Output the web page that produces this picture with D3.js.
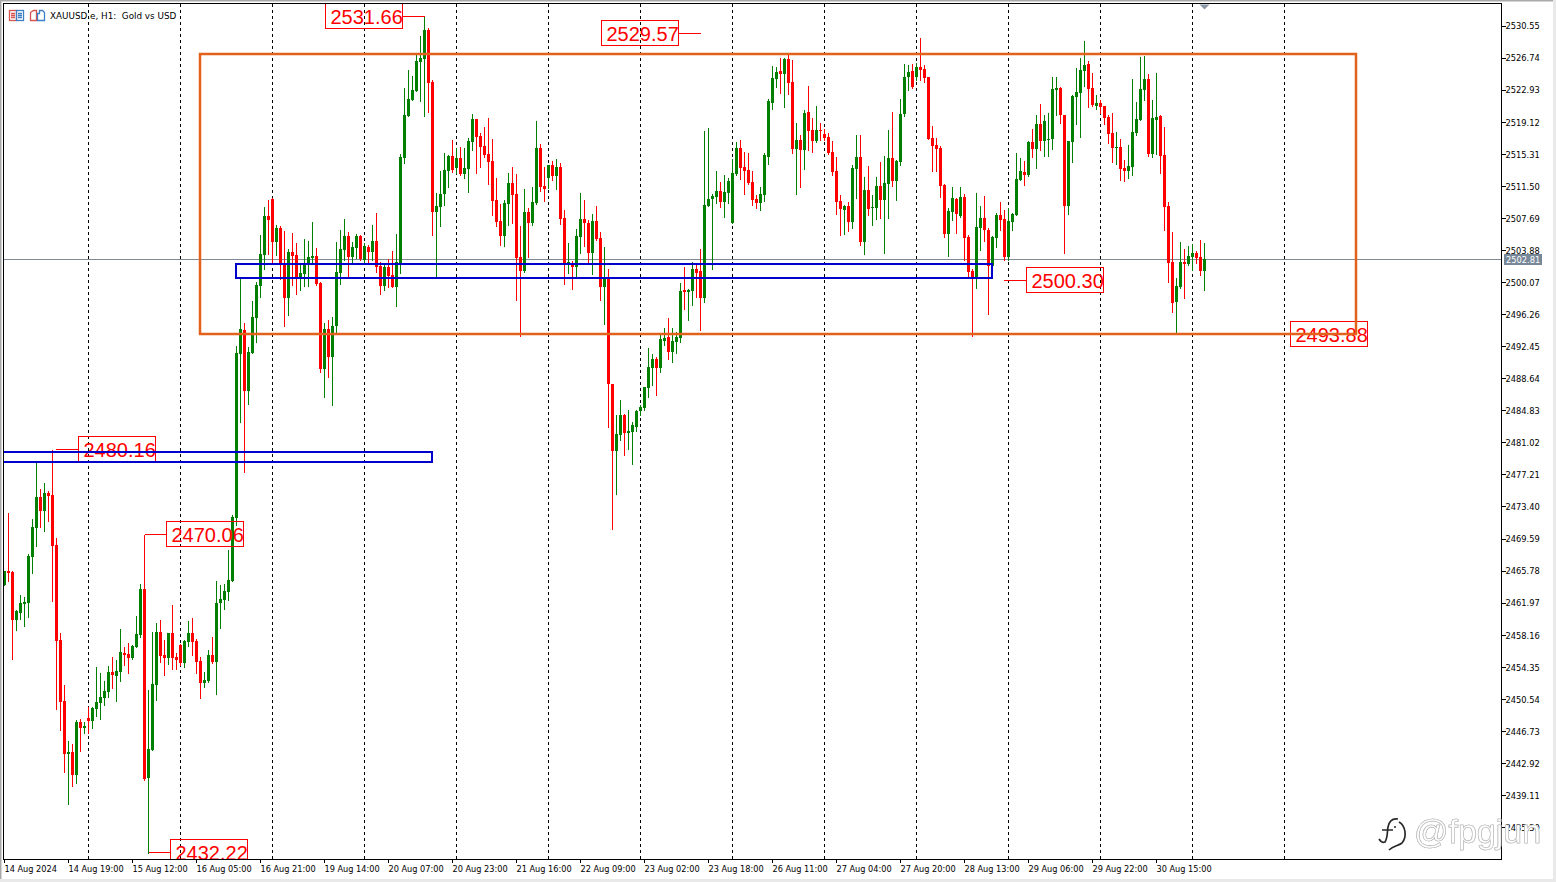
<!DOCTYPE html>
<html><head><meta charset="utf-8">
<script src="https://cdn.jsdelivr.net/npm/d3@7"></script>
<style>html,body{margin:0;padding:0;background:#fff;overflow:hidden}svg{display:block}</style>
</head><body><div id="c"></div>
<script>
const opens=[
2464.07,2465.69,2465.61,2459.91,2460.74,2461.85,2461.97,2467.39,2470.88,2474.52,
2472.86,2475.00,2474.76,2468.82,2457.53,2450.29,2444.03,2444.23,2441.49,2447.79,
2447.12,2448.27,2447.91,2449.33,2450.05,2450.64,2451.35,2453.73,2453.26,2453.73,
2455.99,2455.87,2455.39,2456.70,2458.13,2463.59,2441.14,2444.46,2452.19,2458.48,
2455.75,2455.39,2458.36,2455.51,2456.94,2454.80,2457.29,2458.36,2457.41,2455.04,
2452.42,2452.66,2455.75,2454.92,2461.93,2462.28,2463.23,2464.54,2472.02,2491.51,
2494.37,2487.16,2491.63,2495.83,2499.60,2503.28,2507.91,2509.93,2504.82,2506.49,
2502.09,2498.17,2503.63,2503.28,2500.66,2501.02,2502.21,2502.92,2503.16,2499.95,
2489.73,2494.45,2491.16,2494.84,2501.14,2503.87,2505.54,2503.04,2504.11,2505.54,
2502.68,2504.23,2503.63,2504.94,2501.97,2499.60,2501.85,2500.90,2499.48,2502.21,
2514.80,2519.80,2521.70,2522.77,2526.21,2526.57,2530.02,2523.84,2508.39,2508.98,
2510.53,2513.26,2515.04,2513.62,2514.80,2512.90,2513.50,2516.71,2519.44,2517.42,
2516.23,2515.28,2514.45,2509.82,2507.32,2505.54,2509.34,2511.84,2510.53,2503.04,
2501.38,2508.39,2507.08,2509.46,2516.00,2511.48,2512.43,2513.98,2512.67,2513.74,
2507.68,2502.29,2502.33,2501.86,2505.42,2507.56,2507.08,2503.52,2507.32,2505.30,
2499.48,2500.55,2487.95,2479.99,2481.89,2484.27,2482.13,2482.25,2482.84,2484.74,
2485.10,2487.48,2489.85,2490.92,2489.85,2493.06,2493.54,2491.75,2492.94,2493.42,
2499.12,2498.88,2499.00,2501.62,2501.38,2498.17,2509.10,2509.94,2510.17,2510.88,
2509.57,2510.64,2507.08,2512.90,2515.99,2513.73,2513.37,2511.95,2509.93,2509.45,
2510.40,2514.92,2521.34,2524.19,2525.14,2524.78,2526.56,2523.83,2515.87,2516.94,
2515.75,2520.27,2518.13,2516.82,2518.13,2517.65,2517.30,2515.51,2513.26,2509.69,
2508.62,2509.10,2507.19,2513.49,2514.92,2504.82,2511.00,2508.86,2508.86,2511.47,
2509.81,2511.71,2514.80,2512.07,2514.32,2520.03,2524.42,2525.14,2524.42,2525.61,
2525.38,2524.42,2517.18,2516.34,2515.99,2511.59,2505.77,2508.38,2509.93,2507.91,
2510.17,2505.41,2501.37,2500.50,2506.48,2507.67,2506.24,2501.97,2505.29,2508.03,
2507.55,2503.04,2507.19,2508.03,2512.19,2513.14,2512.78,2516.70,2515.87,2518.84,
2516.82,2517.06,2517.06,2522.88,2523.12,2519.91,2509.10,2516.70,2522.05,2522.52,
2525.14,2525.97,2523.12,2520.98,2521.34,2520.98,2519.67,2517.77,2515.99,2516.11,
2513.61,2513.26,2513.73,2517.77,2519.32,2522.88,2524.19,2515.27,2519.32,2519.79,
2515.16,2509.10,2502.44,2497.69,2499.47,2502.44,2502.20,2503.04,2503.51,2503.04,
2501.37];
const highs=[
2465.77,2472.58,2465.69,2461.10,2462.88,2462.68,2467.75,2471.87,2478.64,2475.43,
2476.14,2475.23,2480.16,2469.61,2458.32,2452.15,2445.53,2445.14,2448.03,2448.19,
2447.79,2449.61,2449.61,2454.28,2453.65,2452.66,2454.44,2455.47,2455.16,2458.84,
2456.66,2457.22,2456.94,2460.38,2464.18,2470.06,2451.59,2458.52,2459.59,2459.91,
2457.53,2458.40,2461.69,2455.95,2457.06,2457.53,2459.79,2460.11,2457.61,2455.55,
2453.77,2456.34,2457.85,2464.58,2464.07,2464.18,2468.22,2472.38,2492.46,2500.51,
2495.24,2492.39,2497.81,2500.07,2505.66,2508.98,2509.81,2510.05,2506.84,2506.72,
2506.13,2503.99,2505.85,2504.70,2502.29,2505.18,2504.94,2507.20,2504.11,2500.07,
2495.16,2495.56,2495.87,2504.82,2506.25,2507.56,2505.97,2504.86,2505.77,2505.65,
2504.66,2504.47,2506.84,2508.27,2502.45,2502.29,2502.80,2503.75,2505.77,2515.28,
2523.12,2525.26,2524.55,2527.04,2529.30,2531.66,2530.25,2524.07,2510.61,2513.26,
2515.44,2515.16,2516.94,2515.95,2516.15,2515.95,2517.14,2520.03,2519.44,2517.74,
2518.45,2519.52,2517.03,2512.43,2509.34,2509.82,2513.07,2513.74,2512.91,2506.73,
2511.12,2508.87,2511.36,2519.20,2516.47,2513.78,2513.98,2514.45,2514.69,2514.17,
2508.63,2504.67,2502.53,2506.37,2510.65,2509.82,2507.44,2508.15,2509.10,2506.01,
2504.23,2501.62,2487.95,2484.27,2486.05,2484.39,2484.86,2483.44,2484.86,2485.46,
2487.64,2492.23,2491.52,2491.20,2493.77,2494.61,2495.80,2494.61,2494.13,2499.95,
2501.86,2499.24,2502.45,2502.21,2503.99,2517.98,2518.33,2510.53,2513.26,2511.95,
2512.78,2512.38,2514.64,2516.70,2516.94,2515.51,2515.39,2513.26,2510.40,2511.35,
2515.39,2521.81,2525.73,2525.61,2526.68,2526.68,2527.04,2526.45,2518.96,2517.53,
2520.50,2523.36,2519.55,2520.98,2518.92,2518.25,2517.73,2516.82,2514.96,2510.40,
2509.21,2509.61,2513.97,2517.53,2517.53,2512.54,2513.85,2510.40,2512.54,2514.32,
2515.04,2518.13,2520.27,2514.56,2521.81,2525.97,2525.85,2525.97,2526.09,2529.06,
2525.85,2524.42,2518.60,2517.18,2516.23,2511.71,2508.86,2511.39,2510.01,2511.35,
2510.52,2505.65,2501.61,2510.64,2509.10,2510.28,2506.48,2505.53,2508.26,2509.57,
2508.62,2508.86,2508.26,2515.39,2514.80,2514.44,2516.82,2518.25,2519.91,2521.22,
2519.91,2520.11,2524.42,2524.42,2523.28,2519.91,2516.82,2522.29,2525.49,2526.68,
2528.70,2526.33,2524.90,2522.29,2521.69,2520.98,2519.91,2520.11,2517.89,2517.06,
2514.56,2516.34,2524.19,2521.45,2526.80,2526.92,2524.78,2521.69,2524.90,2519.91,
2518.48,2509.57,2506.01,2500.50,2504.82,2503.99,2504.34,2504.58,2503.75,2505.06,
2504.70];
const lows=[
2464.07,2464.58,2455.31,2458.72,2459.99,2459.23,2460.30,2465.53,2468.70,2471.00,
2470.44,2471.71,2462.17,2449.37,2446.84,2441.89,2438.05,2440.23,2440.58,2444.38,
2446.52,2446.52,2447.12,2448.50,2448.15,2449.85,2450.80,2451.79,2450.32,2452.70,
2454.56,2453.57,2455.24,2456.70,2457.93,2440.90,2432.22,2444.46,2450.40,2454.92,
2453.37,2454.68,2454.05,2454.05,2454.56,2454.36,2456.82,2455.71,2453.57,2450.64,
2451.99,2452.54,2454.76,2451.12,2458.96,2461.21,2462.28,2464.54,2471.19,2483.47,
2477.49,2485.58,2491.63,2492.98,2498.33,2501.65,2503.40,2502.29,2503.28,2500.39,
2494.84,2496.15,2499.71,2498.64,2499.12,2499.60,2499.60,2502.29,2499.71,2489.41,
2486.44,2488.82,2485.46,2494.05,2499.83,2502.68,2500.66,2502.29,2502.88,2502.68,
2502.29,2502.29,2502.68,2501.22,2498.64,2499.12,2499.52,2499.48,2497.22,2501.14,
2514.21,2519.80,2521.70,2522.77,2521.58,2519.80,2520.27,2505.66,2500.78,2506.72,
2509.22,2511.40,2513.18,2512.98,2512.78,2512.39,2510.76,2515.76,2513.02,2513.74,
2514.97,2511.72,2508.03,2506.73,2504.47,2504.35,2506.85,2507.08,2497.93,2493.66,
2501.26,2503.04,2506.85,2509.34,2510.93,2509.70,2511.24,2512.19,2511.12,2506.97,
2499.84,2501.14,2499.24,2500.67,2503.52,2504.35,2502.33,2501.02,2505.06,2497.93,
2495.08,2482.88,2470.72,2474.88,2481.30,2479.52,2480.23,2478.45,2482.37,2484.27,
2484.86,2486.41,2487.83,2486.65,2489.38,2492.59,2490.92,2490.57,2491.64,2492.94,
2496.86,2495.56,2497.34,2498.29,2494.37,2497.70,2509.10,2501.62,2509.45,2508.98,
2507.79,2509.45,2507.08,2512.78,2512.30,2510.52,2511.71,2509.21,2508.86,2508.62,
2509.69,2514.09,2520.62,2523.24,2522.52,2520.86,2522.40,2515.39,2510.52,2511.35,
2513.49,2515.75,2515.51,2516.70,2516.94,2516.94,2515.27,2512.78,2508.15,2505.65,
2505.77,2506.13,2506.48,2510.01,2504.46,2503.39,2508.03,2506.84,2507.55,2507.67,
2503.51,2507.67,2511.47,2509.81,2513.97,2519.79,2522.88,2523.12,2524.07,2524.07,
2523.83,2517.06,2513.26,2513.26,2510.20,2505.41,2503.15,2507.43,2505.89,2507.83,
2502.68,2500.70,2493.65,2499.35,2503.87,2504.94,2496.26,2501.82,2504.26,2506.24,
2502.68,2502.68,2506.24,2508.03,2512.19,2511.59,2512.66,2514.92,2513.61,2515.75,
2515.04,2515.04,2515.87,2519.91,2518.96,2503.51,2508.15,2514.32,2518.84,2517.30,
2523.36,2520.86,2520.98,2520.62,2520.11,2518.84,2516.58,2514.32,2514.09,2512.19,
2512.07,2512.42,2512.78,2517.53,2519.32,2521.69,2515.03,2514.92,2515.27,2512.98,
2506.24,2500.06,2496.50,2493.89,2499.35,2498.16,2502.09,2501.49,2502.28,2500.90,
2499.11];
const closes=[
2465.77,2465.53,2459.91,2460.98,2461.93,2462.05,2467.51,2470.96,2474.52,2472.86,
2475.00,2474.64,2468.70,2457.41,2450.17,2444.03,2444.23,2441.49,2447.79,2447.08,
2447.32,2447.95,2449.49,2450.17,2450.76,2451.47,2453.73,2453.33,2453.85,2456.11,
2455.75,2455.39,2456.82,2458.24,2463.59,2440.98,2444.58,2452.30,2458.48,2455.63,
2455.39,2458.36,2455.39,2455.16,2454.80,2457.45,2458.36,2457.29,2454.92,2452.42,
2452.78,2455.75,2454.92,2461.93,2462.40,2463.35,2464.66,2472.18,2491.63,2494.45,
2487.16,2491.75,2495.91,2499.71,2503.40,2507.91,2507.44,2504.82,2506.49,2502.09,
2498.17,2503.63,2503.16,2500.66,2501.14,2502.33,2503.04,2503.16,2499.83,2489.73,
2494.45,2491.16,2494.84,2501.26,2503.99,2505.54,2503.04,2504.23,2505.54,2502.80,
2504.35,2503.63,2504.94,2501.85,2499.60,2501.85,2500.78,2499.48,2502.45,2514.92,
2519.91,2521.82,2522.89,2526.33,2526.69,2530.02,2523.72,2508.39,2509.10,2510.53,
2513.38,2515.04,2513.38,2514.80,2512.90,2513.62,2516.83,2519.44,2517.30,2516.11,
2515.16,2514.33,2509.70,2507.20,2505.54,2509.46,2511.84,2510.41,2502.92,2501.38,
2508.39,2507.08,2509.58,2516.00,2511.36,2511.12,2513.98,2512.67,2513.74,2507.56,
2502.33,2502.45,2501.86,2505.54,2507.56,2507.08,2503.52,2507.32,2505.18,2499.48,
2500.55,2487.95,2479.99,2482.01,2484.27,2482.13,2482.37,2483.08,2484.74,2485.22,
2487.60,2489.97,2490.92,2489.85,2493.30,2493.42,2491.75,2493.06,2493.54,2499.00,
2498.88,2499.12,2501.62,2501.14,2498.17,2509.22,2509.94,2510.29,2510.88,2509.57,
2510.76,2512.07,2513.02,2515.99,2513.61,2513.26,2511.83,2509.81,2509.45,2510.52,
2515.16,2521.57,2524.31,2525.02,2524.78,2526.56,2523.71,2515.87,2516.94,2515.75,
2520.15,2518.01,2516.82,2518.13,2518.01,2517.18,2515.39,2513.14,2509.57,2508.74,
2509.10,2507.19,2513.61,2514.92,2504.82,2511.00,2508.74,2508.98,2511.47,2509.81,
2511.83,2514.80,2512.07,2514.44,2520.03,2524.42,2525.02,2523.24,2525.61,2525.26,
2524.31,2517.06,2516.23,2515.87,2511.47,2505.77,2508.50,2510.05,2508.15,2510.17,
2505.29,2501.25,2500.50,2506.60,2507.67,2506.24,2501.97,2505.41,2508.03,2507.43,
2503.04,2507.31,2508.15,2512.30,2513.26,2512.78,2516.70,2515.87,2518.84,2516.82,
2519.20,2517.06,2523.00,2523.12,2519.91,2509.10,2516.82,2522.17,2522.64,2525.26,
2525.85,2523.00,2521.10,2521.34,2520.86,2519.55,2517.65,2515.99,2516.11,2513.49,
2513.26,2513.85,2517.89,2519.43,2523.00,2524.19,2515.27,2519.55,2519.67,2515.04,
2508.98,2502.32,2497.57,2499.59,2502.44,2502.20,2503.15,2503.51,2502.92,2501.37,
2502.81];
const priceTicks=[2530.55,2526.74,2522.93,2519.12,2515.31,2511.50,2507.69,2503.88,2500.07,2496.26,2492.45,2488.64,2484.83,2481.02,2477.21,2473.40,2469.59,2465.78,2461.97,2458.16,2454.35,2450.54,2446.73,2442.92,2439.11,2435.30];
const timeLabels=["14 Aug 2024","14 Aug 19:00","15 Aug 12:00","16 Aug 05:00","16 Aug 21:00","19 Aug 14:00","20 Aug 07:00","20 Aug 23:00","21 Aug 16:00","22 Aug 09:00","23 Aug 02:00","23 Aug 18:00","26 Aug 11:00","27 Aug 04:00","27 Aug 20:00","28 Aug 13:00","29 Aug 06:00","29 Aug 22:00","30 Aug 15:00"];
const lastPrice=2502.81;
const calloutPrices=[2531.66,2529.57,2500.30,2493.88,2480.16,2470.06,2432.22];
const rangeZone=[2527.16,2493.88];
const blueZones=[[2502.21,2500.54],[2479.86,2478.68]];

const W=1556,H=882,L=4,T=4,R=1501.5,B=859;
const x=d3.scaleLinear().domain([0,300]).range([4.5,1204.5]);
const y=d3.scaleLinear().domain([2530.55,2439.11]).range([25.5,795]);
const GREEN="#007f00",RED="#ff0000",ORANGE="#e2621b",BLUE="#0000cd";
const svg=d3.select("#c").append("svg").attr("width",W).attr("height",H);
const defs=svg.append("defs");
defs.append("clipPath").attr("id","plot").append("rect").attr("x",L).attr("y",T).attr("width",R-L).attr("height",B-T);

// window chrome
svg.append("rect").attr("x",0).attr("y",0).attr("width",W).attr("height",1.5).attr("fill","#a9a9a9");
svg.append("rect").attr("x",0).attr("y",0).attr("width",1.5).attr("height",H).attr("fill","#a9a9a9");
svg.append("rect").attr("x",1553).attr("y",0).attr("width",3).attr("height",H).attr("fill","#e9e9e9");
svg.append("rect").attr("x",0).attr("y",879).attr("width",W).attr("height",3).attr("fill","#e9e9e9");

const plot=svg.append("g").attr("clip-path","url(#plot)");
// grid every 23 bars
const gridBars=d3.range(21,321,23);
plot.append("g").selectAll("line").data(gridBars).join("line")
 .attr("x1",d=>x(d)).attr("x2",d=>x(d)).attr("y1",T).attr("y2",B)
 .attr("stroke","#000").attr("stroke-dasharray","3 3").attr("shape-rendering","crispEdges");
// last price line
const lastY=Math.round(y(lastPrice))+.5;
plot.append("line").attr("x1",L).attr("x2",R).attr("y1",lastY).attr("y2",lastY)
 .attr("stroke","#808a94").attr("shape-rendering","crispEdges");
// candles
const bars=d3.range(opens.length);
const cg=plot.append("g").attr("shape-rendering","crispEdges");
const col=i=>closes[i]>=opens[i]?GREEN:RED;
cg.selectAll("line.w").data(bars).join("line").attr("class","w")
 .attr("x1",i=>x(i)).attr("x2",i=>x(i))
 .attr("y1",i=>Math.round(y(highs[i]))).attr("y2",i=>Math.round(y(lows[i]))+1)
 .attr("stroke",col);
cg.selectAll("rect").data(bars).join("rect")
 .attr("x",i=>x(i)-1.5).attr("width",3)
 .attr("y",i=>Math.round(y(Math.max(opens[i],closes[i]))))
 .attr("height",i=>Math.max(1,Math.round(y(Math.min(opens[i],closes[i])))-Math.round(y(Math.max(opens[i],closes[i])))))
 .attr("fill",col);
// callouts
const calloutLayout=[
 {bx:325.5,w:77,c:[402.5,424.5]},
 {bx:601.5,w:77,c:[678.5,701]},
 {bx:1026.5,w:77,c:[1004,1026.5]},
 {bx:1290.5,w:77,c:[1268,1290.5]},
 {bx:78.5,w:77,c:[56,78.5]},
 {bx:166.5,w:77,c:[144.5,166.5]},
 {bx:170.5,w:77,c:[148.5,170.5]}];
const cog=plot.append("g");
calloutPrices.forEach((p,k)=>{
 const l=calloutLayout[k],yy=Math.floor(y(p))+.5,g=cog.append("g");
 g.append("rect").attr("x",l.bx).attr("y",yy-13).attr("width",l.w).attr("height",25).attr("fill","none").attr("stroke",RED).attr("stroke-width",1).attr("shape-rendering","crispEdges");
 g.append("line").attr("x1",l.c[0]).attr("x2",l.c[1]).attr("y1",yy).attr("y2",yy).attr("stroke",RED).attr("shape-rendering","crispEdges");
 g.append("text").attr("x",l.bx+5).attr("y",yy+7.5).attr("font-family","Liberation Sans").attr("font-size",20).attr("fill",RED).text(p.toFixed(2));
});
// zones
plot.append("rect").attr("x",200).attr("width",1156).attr("y",Math.round(y(rangeZone[0]))).attr("height",Math.round(y(rangeZone[1]))-Math.round(y(rangeZone[0])))
 .attr("fill","none").attr("stroke",ORANGE).attr("stroke-width",2.5);
const blueX=[[236,992],[-5,432]];
plot.selectAll("rect.bz").data(blueZones).join("rect").attr("class","bz")
 .attr("x",(d,i)=>blueX[i][0]).attr("width",(d,i)=>blueX[i][1]-blueX[i][0])
 .attr("y",d=>Math.round(y(d[0]))).attr("height",d=>Math.round(y(d[1]))-Math.round(y(d[0])))
 .attr("fill","none").attr("stroke",BLUE).attr("stroke-width",2);
// frame
svg.append("path").attr("d",`M${L-.5},${T-.5}H${R}V${B}H${L-.5}Z`).attr("fill","none").attr("stroke","#000").attr("shape-rendering","crispEdges");
// shift marker
svg.append("path").attr("d",`M${x(300)-5},4.5h10l-5,5z`).attr("fill","#8d99a6");
// axes
const font="DejaVu Sans";
const yAxis=svg.append("g").attr("transform",`translate(${R},0)`)
 .call(d3.axisRight(y).tickValues(priceTicks).tickFormat(d3.format(".2f")).tickSize(4).tickPadding(0));
yAxis.select(".domain").remove();
yAxis.selectAll("line").attr("stroke","#000").attr("shape-rendering","crispEdges");
yAxis.selectAll("text").attr("font-family",font).attr("font-size",8.3).attr("fill","#000").attr("dy","0.4em");
const tx=d3.scaleLinear().domain([0,1]).range([4.5,68.5]);
const xg=svg.append("g");
timeLabels.forEach((t,i)=>{
 xg.append("line").attr("x1",tx(i)).attr("x2",tx(i)).attr("y1",B).attr("y2",B+4).attr("stroke","#000").attr("shape-rendering","crispEdges");
 xg.append("text").attr("x",tx(i)).attr("y",872).attr("font-family",font).attr("font-size",8.2).attr("fill","#000").text(t);
});
// last price tag
svg.append("rect").attr("x",1504).attr("y",lastY-5.5).attr("width",38).attr("height",11).attr("fill","#778899");
svg.append("text").attr("x",1506).attr("y",lastY+3).attr("font-family",font).attr("font-size",8.3).attr("fill","#fff").text(lastPrice.toFixed(2));
// header
const ic=svg.append("g").attr("fill","none").attr("stroke-width",1.3);
ic.append("rect").attr("x",9.5).attr("y",10.5).attr("width",7).attr("height",10).attr("stroke","#d9534f");
ic.append("rect").attr("x",16.5).attr("y",10.5).attr("width",7).attr("height",10).attr("stroke","#3b7fc4");
ic.append("path").attr("d","M11,13.5h4M11,15.5h4M11,17.5h4").attr("stroke","#d9534f");
ic.append("path").attr("d","M18,13.5h4M18,15.5h4M18,17.5h4").attr("stroke","#3b7fc4");
ic.append("path").attr("d","M30.5,20.5v-8l3,-2h3v10z").attr("stroke","#d9534f");
ic.append("path").attr("d","M37.5,20.5v-7h2v-3h3l2,2v8z").attr("stroke","#3b7fc4");
svg.append("text").attr("x",50).attr("y",18.5).attr("font-family",font).attr("font-size",8.8).attr("fill","#000").style("white-space","pre").text("XAUUSD.e, H1:  Gold vs USD");
// watermark
svg.append("text").attr("x",1414).attr("y",843).attr("font-family","Liberation Sans").attr("font-size",34).attr("fill","#fff").attr("stroke","#c8c8c8").attr("stroke-width",.6)
 .style("filter","drop-shadow(0.8px 0.8px 0 #8a8a8a)").text("@fpgjun");
svg.append("path").attr("d","M1398,819c-6,-1,-9,3,-10,8c-1,5,0,10,-3,15c-2,1,-4,0,-6,-3M1382,830h11M1399,822c7,4,8,15,3,21c-4,3,-9,3,-13,7").attr("fill","none").attr("stroke","#2a2a2a").attr("stroke-width",1.7);
svg.append("circle").attr("cx",1395).attr("cy",827).attr("r",1).attr("fill","#2a2a2a");
</script></body></html>
